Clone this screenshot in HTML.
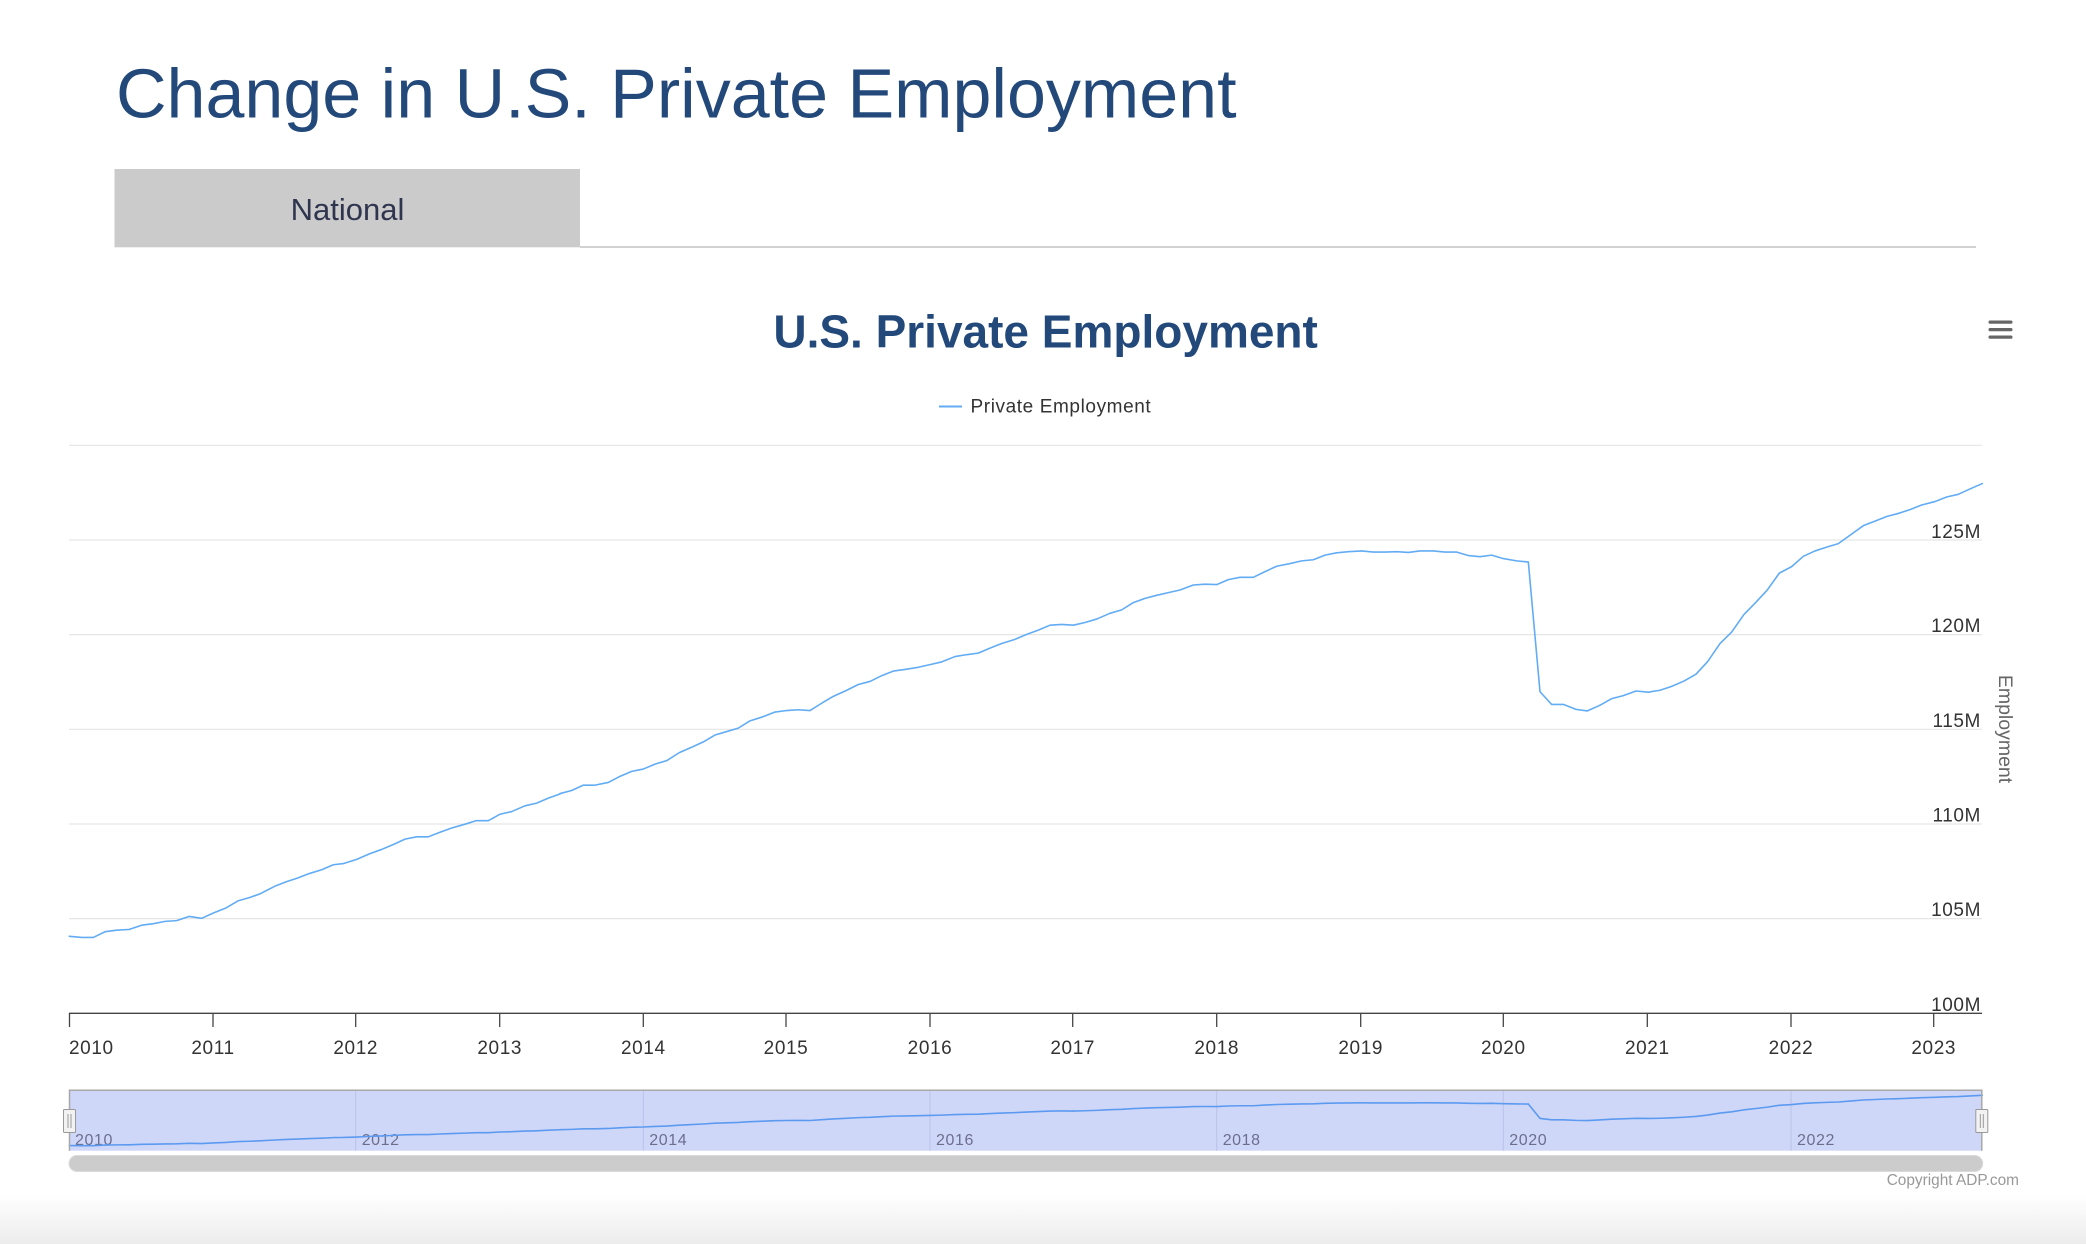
<!DOCTYPE html>
<html>
<head>
<meta charset="utf-8">
<style>
  html, body { margin: 0; padding: 0; background: #ffffff; }
  body { width: 2086px; height: 1244px; overflow: hidden; position: relative; }
  svg { position: absolute; left: 0; top: 0; display: block; }
  text { font-family: "Liberation Sans", Arial, sans-serif; }
</style>
</head>
<body>
<svg width="2086" height="1244" viewBox="0 0 2086 1244" xmlns="http://www.w3.org/2000/svg">
  <defs>
    <linearGradient id="bottomGrad" x1="0" y1="0" x2="0" y2="1">
      <stop offset="0" stop-color="#ffffff"/>
      <stop offset="1" stop-color="#ececec"/>
    </linearGradient>
    <clipPath id="plotClip">
      <rect x="68" y="430" width="1916" height="590"/>
    </clipPath>
  </defs>

  <rect x="0" y="0" width="2086" height="1244" fill="#ffffff"/>
  <rect x="0" y="1195" width="2086" height="49" fill="url(#bottomGrad)"/>

  <!-- Page title -->
  <text x="116" y="117.3" font-size="70" fill="#23497b">Change in U.S. Private Employment</text>

  <!-- Tab -->
  <rect x="114.5" y="169" width="465.5" height="78.3" fill="#cbcbcb"/>
  <text x="347.5" y="220" font-size="31" fill="#30354f" text-anchor="middle">National</text>
  <line x1="580" y1="247" x2="1976" y2="247" stroke="#d2d2d2" stroke-width="2"/>

  <!-- Chart title -->
  <text x="1045.6" y="347.3" font-size="46" font-weight="bold" fill="#23497b" text-anchor="middle">U.S. Private Employment</text>

  <!-- Hamburger -->
  <rect x="1988.5" y="320.5" width="24" height="3.2" rx="1.5" fill="#666666"/>
  <rect x="1988.5" y="328" width="24" height="3.2" rx="1.5" fill="#666666"/>
  <rect x="1988.5" y="335.5" width="24" height="3.2" rx="1.5" fill="#666666"/>

  <!-- Legend -->
  <line x1="939" y1="406.5" x2="962" y2="406.5" stroke="#62acf4" stroke-width="2"/>
  <text x="970.5" y="412.7" font-size="19" letter-spacing="0.6" fill="#333333">Private Employment</text>

  <!-- Gridlines -->
  <g stroke="#e6e6e6" stroke-width="1.2">
    <line x1="69" y1="445.3" x2="1982" y2="445.3"/>
    <line x1="69" y1="540" x2="1982" y2="540"/>
    <line x1="69" y1="634.6" x2="1982" y2="634.6"/>
    <line x1="69" y1="729.3" x2="1982" y2="729.3"/>
    <line x1="69" y1="824" x2="1982" y2="824"/>
    <line x1="69" y1="918.6" x2="1982" y2="918.6"/>
  </g>

  <!-- Y labels -->
  <g font-size="19" letter-spacing="0.6" fill="#333333" text-anchor="end">
    <text x="1981" y="537.8">125M</text>
    <text x="1981" y="632.1">120M</text>
    <text x="1981" y="726.8">115M</text>
    <text x="1981" y="821.5">110M</text>
    <text x="1981" y="916.2">105M</text>
    <text x="1981" y="1010.8">100M</text>
  </g>

  <!-- Y axis title -->
  <text transform="translate(1999,729) rotate(90)" x="0" y="0" font-size="19.5" fill="#666666" text-anchor="middle">Employment</text>

  <!-- X axis -->
  <line x1="69" y1="1013.3" x2="1982" y2="1013.3" stroke="#444444" stroke-width="1.4"/>
  <g stroke="#444444" stroke-width="1.3">
    <line x1="69.5" y1="1013" x2="69.5" y2="1027"/>
    <line x1="213" y1="1013" x2="213" y2="1027"/>
    <line x1="355.7" y1="1013" x2="355.7" y2="1027"/>
    <line x1="499.7" y1="1013" x2="499.7" y2="1027"/>
    <line x1="643.3" y1="1013" x2="643.3" y2="1027"/>
    <line x1="786" y1="1013" x2="786" y2="1027"/>
    <line x1="930" y1="1013" x2="930" y2="1027"/>
    <line x1="1072.7" y1="1013" x2="1072.7" y2="1027"/>
    <line x1="1216.7" y1="1013" x2="1216.7" y2="1027"/>
    <line x1="1360.7" y1="1013" x2="1360.7" y2="1027"/>
    <line x1="1503.3" y1="1013" x2="1503.3" y2="1027"/>
    <line x1="1647.3" y1="1013" x2="1647.3" y2="1027"/>
    <line x1="1791" y1="1013" x2="1791" y2="1027"/>
    <line x1="1933.7" y1="1013" x2="1933.7" y2="1027"/>
  </g>
  <g font-size="19" letter-spacing="0.6" fill="#333333" text-anchor="middle">
    <text x="69" y="1054" text-anchor="start">2010</text>
    <text x="213" y="1054">2011</text>
    <text x="355.7" y="1054">2012</text>
    <text x="499.7" y="1054">2013</text>
    <text x="643.3" y="1054">2014</text>
    <text x="786" y="1054">2015</text>
    <text x="930" y="1054">2016</text>
    <text x="1072.7" y="1054">2017</text>
    <text x="1216.7" y="1054">2018</text>
    <text x="1360.7" y="1054">2019</text>
    <text x="1503.3" y="1054">2020</text>
    <text x="1647.3" y="1054">2021</text>
    <text x="1791" y="1054">2022</text>
    <text x="1933.7" y="1054">2023</text>
  </g>

  <!-- Main series -->
  <g clip-path="url(#plotClip)" fill="none" stroke="#62acf4" stroke-width="1.6" stroke-linejoin="round" stroke-linecap="round">
    <polyline vector-effect="non-scaling-stroke" transform="translate(60,430) scale(0.333333,0.3827)" points="28,1323 65,1326 100,1326 135,1311 170,1307 208,1305 245,1294 280,1290 315,1284 350,1282 388,1271 425,1276 460,1262 498,1249 535,1230 568,1222 600,1212 645,1192 680,1180 712,1171 748,1159 785,1149 820,1136 850,1133 890,1122 930,1107 965,1096 1000,1083 1035,1069 1070,1063 1105,1063 1140,1051 1175,1040 1215,1030 1248,1021 1285,1021 1320,1004 1355,997 1395,982 1430,975 1465,962 1500,951"/>
    <polyline vector-effect="non-scaling-stroke" transform="translate(560,430) scale(0.333333,0.3827)" points="0,950 35,942 70,928 105,928 145,921 180,905 215,892 250,886 285,873 320,864 358,843 395,829 430,815 465,797 500,788 535,779 570,760 610,749 645,737 680,733 715,731 750,733 785,714 820,696 858,681 895,665 930,657 965,642 1000,630 1040,625 1075,620 1110,613 1145,606 1185,592 1220,587 1255,583 1290,570 1325,558 1365,547 1400,534 1435,523 1470,510 1505,508 1540,510"/>
    <polyline vector-effect="non-scaling-stroke" transform="translate(1060,430) scale(0.333333,0.3827)" points="40,510 75,503 110,494 150,479 185,470 220,451 255,440 290,432 325,425 360,418 400,405 435,403 470,404 505,391 540,385 580,385 615,370 650,356 690,349 725,342 760,339 795,327 830,321 865,318 905,316 940,319 975,319 1010,318 1045,320 1080,316 1120,316 1155,319 1190,319 1225,328 1260,331 1295,327 1330,336 1370,342 1405,345"/>
    <polyline vector-effect="non-scaling-stroke" transform="translate(1480,430) scale(0.333333,0.3827)" points="145,345 180,684 215,717 250,717 288,730 322,734 358,720 395,702 430,694 468,682 505,685 540,680 575,670 612,656 648,638 683,605 720,558 755,528 792,482 828,450 862,418 898,374 935,357 970,330 1005,316 1040,306 1075,297 1110,275 1150,250 1185,238 1220,226 1255,218 1290,208 1325,196 1365,187 1400,175 1435,168 1470,154 1507,140"/>
  </g>

  <!-- Navigator -->
  <rect x="69" y="1090" width="1913" height="60.7" fill="#cfd7f9"/>
  <g stroke="#b9c2e8" stroke-width="1">
    <line x1="355.7" y1="1090" x2="355.7" y2="1150.7"/>
    <line x1="643.3" y1="1090" x2="643.3" y2="1150.7"/>
    <line x1="930" y1="1090" x2="930" y2="1150.7"/>
    <line x1="1216.7" y1="1090" x2="1216.7" y2="1150.7"/>
    <line x1="1503.3" y1="1090" x2="1503.3" y2="1150.7"/>
    <line x1="1791" y1="1090" x2="1791" y2="1150.7"/>
  </g>
  <g font-size="16" letter-spacing="0.6" fill="#6b6f8c">
    <text x="75" y="1145">2010</text>
    <text x="361.7" y="1145">2012</text>
    <text x="649.3" y="1145">2014</text>
    <text x="936" y="1145">2016</text>
    <text x="1222.7" y="1145">2018</text>
    <text x="1509.3" y="1145">2020</text>
    <text x="1797" y="1145">2022</text>
  </g>
  <g fill="none" stroke="#5c9af0" stroke-width="1.6" stroke-linejoin="round" stroke-linecap="round">
    <polyline vector-effect="non-scaling-stroke" transform="translate(60,1089.4) scale(0.333333,0.04244)" points="28,1323 65,1326 100,1326 135,1311 170,1307 208,1305 245,1294 280,1290 315,1284 350,1282 388,1271 425,1276 460,1262 498,1249 535,1230 568,1222 600,1212 645,1192 680,1180 712,1171 748,1159 785,1149 820,1136 850,1133 890,1122 930,1107 965,1096 1000,1083 1035,1069 1070,1063 1105,1063 1140,1051 1175,1040 1215,1030 1248,1021 1285,1021 1320,1004 1355,997 1395,982 1430,975 1465,962 1500,951"/>
    <polyline vector-effect="non-scaling-stroke" transform="translate(560,1089.4) scale(0.333333,0.04244)" points="0,950 35,942 70,928 105,928 145,921 180,905 215,892 250,886 285,873 320,864 358,843 395,829 430,815 465,797 500,788 535,779 570,760 610,749 645,737 680,733 715,731 750,733 785,714 820,696 858,681 895,665 930,657 965,642 1000,630 1040,625 1075,620 1110,613 1145,606 1185,592 1220,587 1255,583 1290,570 1325,558 1365,547 1400,534 1435,523 1470,510 1505,508 1540,510"/>
    <polyline vector-effect="non-scaling-stroke" transform="translate(1060,1089.4) scale(0.333333,0.04244)" points="40,510 75,503 110,494 150,479 185,470 220,451 255,440 290,432 325,425 360,418 400,405 435,403 470,404 505,391 540,385 580,385 615,370 650,356 690,349 725,342 760,339 795,327 830,321 865,318 905,316 940,319 975,319 1010,318 1045,320 1080,316 1120,316 1155,319 1190,319 1225,328 1260,331 1295,327 1330,336 1370,342 1405,345"/>
    <polyline vector-effect="non-scaling-stroke" transform="translate(1480,1089.4) scale(0.333333,0.04244)" points="145,345 180,684 215,717 250,717 288,730 322,734 358,720 395,702 430,694 468,682 505,685 540,680 575,670 612,656 648,638 683,605 720,558 755,528 792,482 828,450 862,418 898,374 935,357 970,330 1005,316 1040,306 1075,297 1110,275 1150,250 1185,238 1220,226 1255,218 1290,208 1325,196 1365,187 1400,175 1435,168 1470,154 1507,140"/>
  </g>
  <path d="M69.5,1150.7 V1090.3 H1981.8 V1150.7" fill="none" stroke="#a8a8a8" stroke-width="1.5"/>

  <!-- Handles -->
  <rect x="63.5" y="1109.5" width="12" height="23" rx="1" fill="#f2f2f2" stroke="#999999" stroke-width="1"/>
  <line x1="68" y1="1114" x2="68" y2="1128" stroke="#999999" stroke-width="1"/>
  <line x1="71" y1="1114" x2="71" y2="1128" stroke="#999999" stroke-width="1"/>
  <rect x="1975.8" y="1109.5" width="12" height="23" rx="1" fill="#f2f2f2" stroke="#999999" stroke-width="1"/>
  <line x1="1980.3" y1="1114" x2="1980.3" y2="1128" stroke="#999999" stroke-width="1"/>
  <line x1="1983.3" y1="1114" x2="1983.3" y2="1128" stroke="#999999" stroke-width="1"/>

  <!-- Scrollbar -->
  <rect x="69" y="1155.5" width="1913.7" height="16" rx="8" fill="#cccccc" stroke="#dadada" stroke-width="1"/>

  <!-- Copyright -->
  <text x="2019" y="1185" font-size="15.4" fill="#999999" text-anchor="end">Copyright ADP.com</text>
</svg>
</body>
</html>
